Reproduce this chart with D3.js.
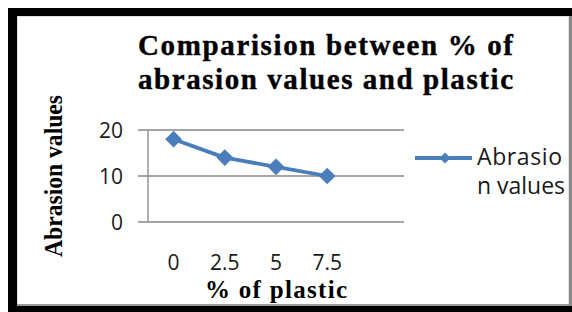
<!DOCTYPE html>
<html><head><meta charset="utf-8">
<script src="https://cdn.jsdelivr.net/npm/d3@7"></script>
<style>html,body{margin:0;padding:0;background:#fff;}svg{display:block;}</style>
</head><body>
<script>
const categories = ["0", "2.5", "5", "7.5"];
const abrasionValues = [18, 14, 12, 10];
const yTicks = [0, 10, 20];
const seriesName = ["Abrasio", "n values"];
const titleLines = ["Comparision between % of", "abrasion values and plastic"];
const xTitle = "% of  plastic";
const yTitle = "Abrasion values";

const W = 572, H = 312;
const svg = d3.select("body").append("svg").attr("width", W).attr("height", H);

// frame
svg.append("rect").attr("x", 0).attr("y", 0).attr("width", W).attr("height", H).attr("fill", "#fff");
svg.append("rect").attr("x", 17).attr("y", 16).attr("width", 552).attr("height", 290)
  .attr("fill", "none").attr("stroke", "#c8c8c8").attr("stroke-width", 1);
svg.append("rect").attr("x", 8).attr("y", 8).attr("width", W - 8).attr("height", 8).attr("fill", "#000");
svg.append("rect").attr("x", 8).attr("y", 8).attr("width", 9).attr("height", H - 8).attr("fill", "#000");
svg.append("rect").attr("x", 8).attr("y", 306).attr("width", W - 8).attr("height", 6).attr("fill", "#000");
svg.append("rect").attr("x", 569).attr("y", 16).attr("width", 3).attr("height", 290).attr("fill", "#8a8a8a");
svg.append("rect").attr("x", 17).attr("y", 304).attr("width", 552).attr("height", 2).attr("fill", "#9a9a9a");

// scales
const plotL = 148, plotR = 404, plotT = 130, plotB = 222;
const step = (plotR - plotL) / (categories.length + 1);
const x = d3.scalePoint().domain(categories).range([plotL, plotR - step]).padding(0.5);
const y = d3.scaleLinear().domain([0, 20]).range([plotB, plotT]);

// gridlines
const g = svg.append("g");
g.selectAll("line.grid").data(yTicks).join("line")
  .attr("x1", plotL - 10).attr("x2", plotR)
  .attr("y1", d => y(d)).attr("y2", d => y(d))
  .attr("stroke", "#878787").attr("stroke-width", 1.3);
g.append("line").attr("x1", plotL).attr("x2", plotL).attr("y1", plotT).attr("y2", plotB)
  .attr("stroke", "#878787").attr("stroke-width", 1.3);

// y tick labels
g.selectAll("text.yt").data(yTicks).join("text")
  .attr("x", 123).attr("y", d => y(d) + 7.5)
  .attr("text-anchor", "end")
  .attr("font-family", "Open Sans").attr("font-size", 21).attr("fill", "#1a1a1a")
  .text(d => d);

// x tick labels
g.selectAll("text.xt").data(categories).join("text")
  .attr("x", d => x(d)).attr("y", 270)
  .attr("text-anchor", "middle")
  .attr("font-family", "Open Sans").attr("font-size", 21).attr("fill", "#1a1a1a")
  .text(d => d);

// line
const color = "#4A7EBB";
const pts = categories.map((c, i) => [x(c), y(abrasionValues[i])]);
svg.append("path").attr("d", d3.line()(pts)).attr("fill", "none")
  .attr("stroke", color).attr("stroke-width", 3.8).attr("stroke-linejoin", "round");
const sym = d3.symbol(d3.symbolSquare, 140);
svg.selectAll("path.mk").data(pts).join("path")
  .attr("d", sym).attr("fill", color)
  .attr("transform", d => `translate(${d[0]},${d[1]}) rotate(45)`);

// titles
svg.selectAll("text.title").data(titleLines).join("text")
  .attr("x", 325.5).attr("y", (d, i) => 55 + i * 34)
  .attr("text-anchor", "middle")
  .attr("font-family", "Liberation Serif").attr("font-weight", "bold").attr("font-size", 29)
  .attr("stroke", "#000").attr("stroke-width", 0.4)
  .attr("textLength", 375).attr("lengthAdjust", "spacing")
  .text(d => d);

svg.append("text").attr("x", 276).attr("y", 298).attr("text-anchor", "middle")
  .attr("font-family", "Liberation Serif").attr("font-weight", "bold").attr("font-size", 25)
  .attr("textLength", 142).attr("lengthAdjust", "spacing")
  .text(xTitle);

svg.append("text").attr("transform", "translate(62,176) rotate(-90)").attr("text-anchor", "middle")
  .attr("font-family", "Liberation Serif").attr("font-weight", "bold").attr("font-size", 26)
  .attr("textLength", 162).attr("lengthAdjust", "spacingAndGlyphs")
  .text(yTitle);

// legend
svg.append("line").attr("x1", 415).attr("x2", 472).attr("y1", 158).attr("y2", 158)
  .attr("stroke", color).attr("stroke-width", 3.8);
svg.append("path").attr("d", d3.symbol(d3.symbolSquare, 60)).attr("fill", color)
  .attr("transform", "translate(445,158) rotate(45)");
svg.selectAll("text.lg").data(seriesName).join("text")
  .attr("x", 477).attr("y", (d, i) => 165 + i * 29)
  .attr("font-family", "Open Sans").attr("font-size", 23).attr("fill", "#1a1a1a")
  .attr("textLength", (d, i) => i === 0 ? 85 : 88).attr("lengthAdjust", "spacing")
  .text(d => d);
</script>
</body></html>
